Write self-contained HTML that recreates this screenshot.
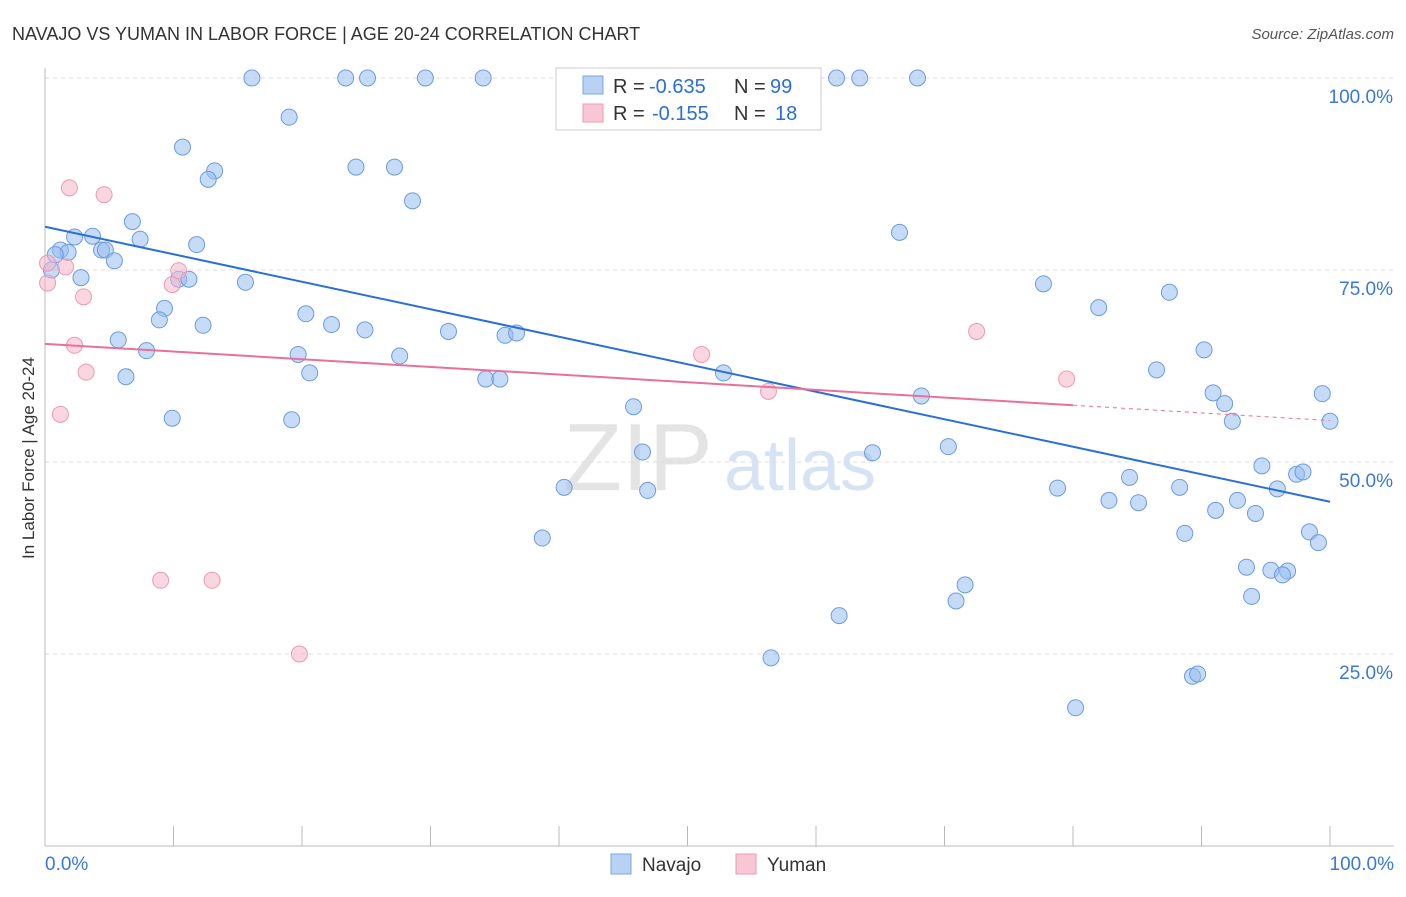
<!DOCTYPE html>
<html><head><meta charset="utf-8"><style>
body{margin:0;background:#fff;font-family:"Liberation Sans",sans-serif}
svg text{font-family:"Liberation Sans",sans-serif}
</style></head><body>
<svg id="c" width="1406" height="892">
<text x="12" y="40" font-size="18" fill="#333">NAVAJO VS YUMAN IN LABOR FORCE | AGE 20-24 CORRELATION CHART</text>
<text x="1394" y="39" font-size="15" fill="#555" text-anchor="end" font-style="italic">Source: ZipAtlas.com</text>
<text x="0" y="0" transform="translate(34,458) rotate(-90)" font-size="17" fill="#333" text-anchor="middle">In Labor Force | Age 20-24</text>
<text x="638" y="490" font-size="96" fill="#e4e4e4" font-family="Liberation Serif" text-anchor="middle">ZIP</text>
<text x="800" y="490" font-size="72" fill="#d6e3f5" text-anchor="middle">atlas</text>
<g id="grid"></g><g id="pts"></g><g id="lines"></g>
<g>
<rect x="556" y="68" width="265" height="62" fill="#fff" stroke="#ccc"/>
<rect x="583" y="76" width="20" height="18" fill="#b8d2f3" stroke="#7aa6e0"/>
<rect x="583" y="104" width="20" height="18" fill="#f8c6d5" stroke="#eb9ab5"/>
<text x="613" y="93" font-size="20" fill="#333">R =</text>
<text x="649" y="93" font-size="20" fill="#2a6fd6">-0.635</text>
<text x="734" y="93" font-size="20" fill="#333">N =</text>
<text x="770" y="93" font-size="20" fill="#2a6fd6">99</text>
<text x="613" y="120" font-size="20" fill="#333">R =</text>
<text x="652" y="120" font-size="20" fill="#2a6fd6">-0.155</text>
<text x="734" y="120" font-size="20" fill="#333">N =</text>
<text x="775" y="120" font-size="20" fill="#2a6fd6">18</text>
</g>
<g>
<rect x="611" y="854" width="20" height="20" fill="#b8d2f3" stroke="#7aa6e0"/>
<text x="642" y="871" font-size="19" fill="#333">Navajo</text>
<rect x="736" y="854" width="20" height="20" fill="#f8c6d5" stroke="#eb9ab5"/>
<text x="767" y="871" font-size="19" fill="#333">Yuman</text>
</g>
</svg>
<script>
const navX=[16.1,23.4,25.1,29.6,34.1,53.1,61.6,63.4,67.9,19,10.7,24.2,27.2,13.2,12.7,28.6,6.8,66.5,2.3,3.7,7.4,11.8,1.2,1.8,4.4,4.7,0.8,5.4,2.8,10.4,11.2,15.6,0.5,9.3,8.9,12.3,20.3,22.3,24.9,31.4,19.7,27.6,77.7,82,87.5,5.7,7.9,35.8,36.7,90.2,86.5,20.6,6.3,34.3,35.4,52.8,90.9,91.8,68.2,99.4,9.9,19.2,45.8,92.4,100,46.5,64.4,70.3,94.7,97.4,97.9,84.4,78.8,88.3,95.9,40.4,46.9,82.8,85.1,92.8,91.1,94.2,38.7,88.7,98.4,99.1,93.5,95.4,96.7,96.3,71.6,70.9,93.9,61.8,56.5,89.3,89.7,80.2];
const navY=[100,100,100,100,100,100,100,100,100,94.9,91,88.4,88.4,87.9,86.8,84,81.3,79.9,79.3,79.4,79,78.3,77.6,77.3,77.6,77.6,77,76.2,74,73.8,73.8,73.4,75,70,68.5,67.8,69.3,67.9,67.2,67,64,63.8,73.2,70.1,72.1,65.9,64.5,66.5,66.8,64.6,62,61.6,61.1,60.8,60.8,61.6,59,57.6,58.6,58.9,55.7,55.5,57.2,55.3,55.3,51.3,51.2,52,49.5,48.4,48.7,48,46.6,46.7,46.5,46.7,46.3,45,44.7,45,43.7,43.3,40.1,40.7,40.9,39.5,36.3,35.9,35.8,35.3,34,31.9,32.5,30,24.5,22.1,22.4,18];
const yuX=[0.2,0.2,1.9,4.6,1.6,3,9.9,10.4,2.3,3.2,1.2,51.1,56.3,72.5,79.5,9,13,19.8];
const yuY=[75.9,73.3,85.7,84.8,75.4,71.5,73.1,74.9,65.2,61.7,56.2,64,59.2,67,60.8,34.6,34.6,25];
const X=v=>45+v*12.85, Y=v=>846-v*7.68;
const NS='http://www.w3.org/2000/svg';
function mk(t,a,p){const e=document.createElementNS(NS,t);for(const k in a)e.setAttribute(k,a[k]);p.appendChild(e);return e;}
const grid=document.getElementById('grid');
[100,75,50,25].forEach(v=>{
 const l=mk('line',{x1:45,x2:1394,y1:Y(v),y2:Y(v),stroke:'#ddd','stroke-dasharray':'4,4'},grid);
 
 
 const t=mk('text',{x:1393,y:Y(v)+25,'font-size':19,fill:'#3a78d8','text-anchor':'end'},grid);t.textContent=v.toFixed(1)+'%';
 
 
});
mk('line',{x1:45,x2:45,y1:68,y2:846,stroke:'#bbb'},grid);
mk('line',{x1:45,x2:1394,y1:846,y2:846,stroke:'#bbb'},grid);
for(let i=1;i<=10;i++){mk('line',{x1:X(i*10),x2:X(i*10),y1:826,y2:846,stroke:'#bbb'},grid);}
let t=mk('text',{x:45,y:870,'font-size':19,fill:'#3a78d8'},grid);t.textContent='0.0%';


t=mk('text',{x:1394,y:870,'font-size':19,fill:'#3a78d8','text-anchor':'end'},grid);t.textContent='100.0%';


const pts=document.getElementById('pts');
navX.forEach((x,i)=>{const c=mk('circle',{cx:X(x),cy:Y(navY[i]),r:8,fill:'rgba(150,190,240,0.55)',stroke:'#6c9be0','stroke-width':1},pts);
 
 });
yuX.forEach((x,i)=>{const c=mk('circle',{cx:X(x),cy:Y(yuY[i]),r:8,fill:'rgba(245,180,200,0.55)',stroke:'#eb9ab5','stroke-width':1},pts);
 
 });
function fit(xs,ys){const n=xs.length,mx=xs.reduce((a,b)=>a+b)/n,my=ys.reduce((a,b)=>a+b)/n;let sxy=0,sxx=0;xs.forEach((x,i)=>{sxy+=(x-mx)*(ys[i]-my);sxx+=(x-mx)**2});const b=sxy/sxx;return [my-b*mx,b];}
const lg=document.getElementById('lines');
let [a,b]=fit(navX,navY);
let l=mk('line',{x1:X(0),y1:Y(a),x2:X(100),y2:Y(a+100*b),stroke:'#2a6fd6','stroke-width':2},lg);


[a,b]=fit(yuX,yuY);
l=mk('line',{x1:X(0),y1:Y(a),x2:X(80),y2:Y(a+80*b),stroke:'#e8709a','stroke-width':2},lg);


l=mk('line',{x1:X(80),y1:Y(a+80*b),x2:X(100),y2:Y(a+100*b),stroke:'#e8709a','stroke-width':1,'stroke-dasharray':'4,4'},lg);


</script>
</body></html>
